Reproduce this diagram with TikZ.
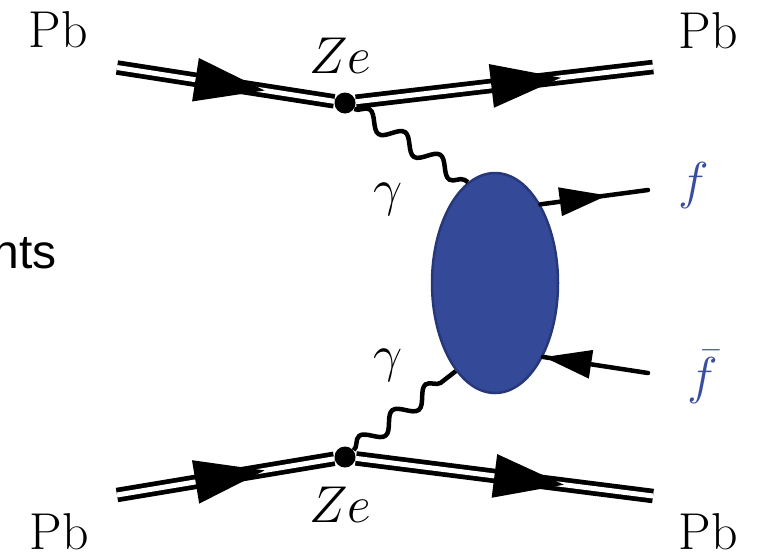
\documentclass[tikz,border=0pt]{standalone}
\usepackage{fontspec}
\newfontfamily\notesans{Liberation Sans}
\usetikzlibrary{shapes.geometric,decorations.pathmorphing,decorations.markings}
\definecolor{blobblue}{RGB}{52,74,153}
\definecolor{blobedge}{RGB}{38,56,122}
\definecolor{labelblue}{RGB}{58,78,160}

\tikzset{
  pbline/.style={double, line width=1.9pt, double distance=2pt},
  pbtip/.style={postaction={decorate}, decoration={markings,
    mark=at position #1 with {\fill[black] (-28pt,-8.8pt) -- (0pt,0pt) -- (-28pt,8.8pt) -- cycle;}}},
  ftip/.style={postaction={decorate}, decoration={markings,
    mark=at position #1 with {\fill[black] (-19pt,-5.8pt) -- (0pt,0pt) -- (-19pt,5.8pt) -- cycle;}}},
  photon/.style={line width=1.8pt, decorate, decoration={snake, amplitude=3.2pt, segment length=16.8pt}},
  fline/.style={line width=1.8pt, line cap=round},
  vertexdot/.style={circle, fill=black, inner sep=0pt, minimum size=8.4pt},
  biglabel/.style={font=\huge, anchor=base, inner sep=0pt},
}

\begin{document}
\begin{tikzpicture}[x=0.4pt, y=-0.4pt]

% Frame
\useasboundingbox (0,0) rectangle (759,555);

% Vertices and blob
\node[vertexdot] (vtop) at (345,103) {};
\node[vertexdot] (vbot) at (345,457) {};
\node[ellipse, fill=blobblue, draw=blobedge, line width=1pt, inner sep=0pt,
      minimum width=50.4pt, minimum height=88pt] (blob) at (495,283) {};

% Free ends
\coordinate (pbTL) at (117,67.5);
\coordinate (pbTR) at (653,67);
\coordinate (pbBL) at (117,495);
\coordinate (pbBR) at (653,496);
\coordinate (fout) at (648,190);
\coordinate (fbarin) at (648,373);

% Lead lines
\draw[pbline] (pbTL) -- (vtop);
\draw[pbline] (vtop) -- (pbTR);
\draw[pbline] (pbBL) -- (vbot);
\draw[pbline] (vbot) -- (pbBR);
\path[pbtip=0.68] (pbTL) -- (vtop);
\path[pbtip=0.69] (vtop) -- (pbTR);
\path[pbtip=0.68] (pbBL) -- (vbot);
\path[pbtip=0.70] (vbot) -- (pbBR);

% Photons
\draw[photon] (vtop) -- (blob.105);
\draw[photon] (vbot) -- (blob.246);

% Fermions
\draw[fline] (blob.60) -- (fout);
\path[ftip=0.62] (blob.60) -- (fout);
\draw[fline] (fbarin) -- (blob.303);
\path[ftip=0.99] (fbarin) -- (blob.303);

% Labels
\node[biglabel] (pbTLlabel) at (58,47) {Pb};
\node[biglabel] (pbTRlabel) at (708,48) {Pb};
\node[biglabel] (pbBLlabel) at (59,549) {Pb};
\node[biglabel] (pbBRlabel) at (708,549) {Pb};
\node[biglabel] (zetop) at (340,73) {$Ze$};
\node[biglabel] (zebot) at (340,522) {$Ze$};
\node[biglabel] (gtop) at (388,205) {$\gamma$};
\node[biglabel] (gbot) at (388,371) {$\gamma$};
\node[biglabel, text=labelblue] (flabel) at (694,198) {$f$};
\node[biglabel, text=labelblue] (fbarlabel) at (703,393) {$\bar{f}$};
\node[anchor=base east, inner sep=0pt, font=\notesans\fontsize{19.2}{23}\selectfont] (note) at (57,268) {nts};

\end{tikzpicture}
\end{document}
